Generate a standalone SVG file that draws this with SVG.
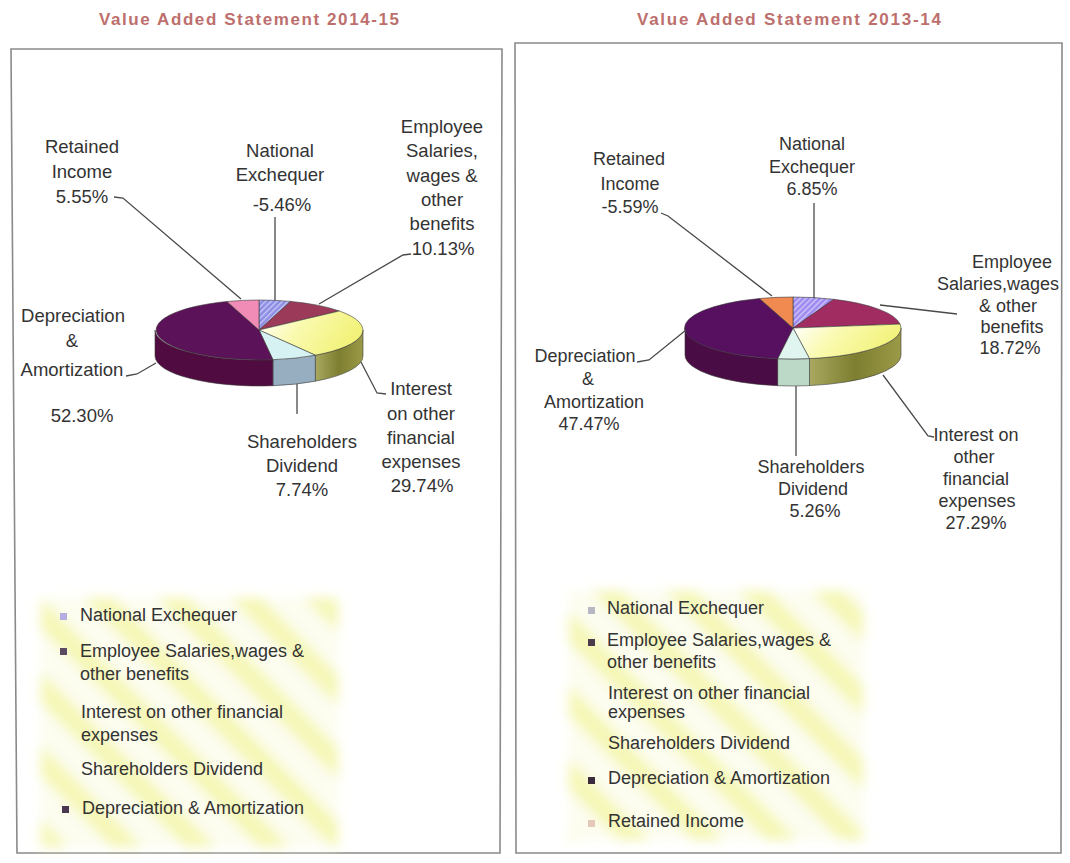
<svg xmlns="http://www.w3.org/2000/svg" width="1070" height="863" viewBox="0 0 1070 863">
<style>
.title{font-family:"Liberation Sans",Arial,sans-serif;font-weight:bold;font-size:17px;fill:#bd6f6d}
.lbl{font-family:"Liberation Sans",Arial,sans-serif;font-size:18.5px;fill:#333333;text-anchor:middle}
.lblr{font-family:"Liberation Sans",Arial,sans-serif;font-size:18px;fill:#333333;text-anchor:middle}
.leg{font-family:"Liberation Sans",Arial,sans-serif;font-size:18px;fill:#333333}
.panel{fill:#fff;stroke:#8a8a8a;stroke-width:1.6}
.lead{fill:none;stroke:#4a4a4a;stroke-width:1.3}
.sl{stroke:#3a3a3a;stroke-width:0.6;stroke-linejoin:round}
</style>
<defs>
<pattern id="hatchL" width="4" height="4" patternUnits="userSpaceOnUse" patternTransform="rotate(45)"><rect width="4" height="4" fill="#8c8ce4"/><rect width="1.5" height="4" fill="#c4c4f6"/></pattern>
<pattern id="hatchR" width="4" height="4" patternUnits="userSpaceOnUse" patternTransform="rotate(45)"><rect width="4" height="4" fill="#9c88ee"/><rect width="1.5" height="4" fill="#cfc4fa"/></pattern>
<pattern id="stripes" width="52" height="52" patternUnits="userSpaceOnUse" patternTransform="rotate(-45)"><rect width="52" height="52" fill="#fdfdf0"/><rect width="22" height="52" fill="#f5f7b6"/></pattern>
<linearGradient id="intTop" x1="0" y1="0" x2="1" y2="0.3"><stop offset="0" stop-color="#ffffff"/><stop offset="0.45" stop-color="#fafab0"/><stop offset="1" stop-color="#f2f27a"/></linearGradient>
<linearGradient id="intSide" x1="0" y1="0" x2="1" y2="0"><stop offset="0" stop-color="#a8a860"/><stop offset="0.5" stop-color="#7e7e30"/><stop offset="1" stop-color="#9a9a48"/></linearGradient>
<filter id="soft" x="-5%" y="-5%" width="110%" height="110%"><feGaussianBlur stdDeviation="6"/></filter>
</defs>

<rect width="1070" height="863" fill="#ffffff"/>

<g id="title-left"><text class="title" x="99" y="25" textLength="300">Value Added Statement 2014-15</text></g>
<g id="title-right"><text class="title" x="637" y="25" textLength="304">Value Added Statement 2013-14</text></g>

<g id="panel-left"><path class="panel" d="M11,49 L502,49 L500,853 L17,853 Z"/></g>
<g id="panel-right"><path class="panel" d="M515,43 L1062,43 L1061,853 L516,853 Z"/></g>

<!-- LEFT PIE 2014-15 -->
<g id="pie-left">
<path class="sl" fill="url(#intSide)" d="M363,330 A104,30 0 0 1 315.3,355.2 L315.3,381.2 A104,30 0 0 0 363,356 Z"/>
<path class="sl" fill="#97aec0" d="M315.3,355.2 A104,30 0 0 1 272.9,359.7 L272.9,385.7 A104,30 0 0 0 315.3,381.2 Z"/>
<path class="sl" fill="#500c40" d="M272.9,359.7 A104,30 0 0 1 155,330 L155,356 A104,30 0 0 0 272.9,385.7 Z"/>
<path class="sl" fill="url(#hatchL)" d="M259,330 L259,300 A104,30 0 0 1 290.6,301.4 Z"/>
<path class="sl" fill="#9c3a5a" d="M259,330 L290.6,301.4 A104,30 0 0 1 339.4,311 Z"/>
<path class="sl" fill="url(#intTop)" d="M259,330 L339.4,311 A104,30 0 0 1 315.3,355.2 Z"/>
<path class="sl" fill="#d6f2f2" d="M259,330 L315.3,355.2 A104,30 0 0 1 272.9,359.7 Z"/>
<path class="sl" fill="#5c1258" d="M259,330 L272.9,359.7 A104,30 0 0 1 226.9,301.5 Z"/>
<path class="sl" fill="#f08cb6" d="M259,330 L226.9,301.5 A104,30 0 0 1 259,300 Z"/>
</g>

<!-- RIGHT PIE 2013-14 -->
<g id="pie-right">
<path class="sl" fill="url(#intSide)" d="M901,328 A108,31 0 0 1 809.5,358.6 L809.5,385.6 A108,31 0 0 0 901,355 Z"/>
<path class="sl" fill="#bcd9c8" d="M809.5,358.6 A108,31 0 0 1 777.6,358.7 L777.6,385.7 A108,31 0 0 0 809.5,385.6 Z"/>
<path class="sl" fill="#4a0c44" d="M777.6,358.7 A108,31 0 0 1 685,328 L685,355 A108,31 0 0 0 777.6,385.7 Z"/>
<path class="sl" fill="url(#hatchR)" d="M793,328 L793,297 A108,31 0 0 1 833.8,299.3 Z"/>
<path class="sl" fill="#a02c62" d="M793,328 L833.8,299.3 A108,31 0 0 1 900.1,324.1 Z"/>
<path class="sl" fill="url(#intTop)" d="M793,328 L900.1,324.1 A108,31 0 0 1 809.5,358.6 Z"/>
<path class="sl" fill="#e0f4f0" d="M793,328 L809.5,358.6 A108,31 0 0 1 777.6,358.7 Z"/>
<path class="sl" fill="#571060" d="M793,328 L777.6,358.7 A108,31 0 0 1 759.4,298.5 Z"/>
<path class="sl" fill="#f08a50" d="M793,328 L759.4,298.5 A108,31 0 0 1 793,297 Z"/>
</g>

<g id="connectors">
<path class="lead" d="M114,197 L123,198 L241,299"/>
<path class="lead" d="M275,217 L275,300"/>
<path class="lead" d="M411,254 L403,255 L319,304"/>
<path class="lead" d="M126,376 L137,374 L156,363"/>
<path class="lead" d="M297,384 L297,414"/>
<path class="lead" d="M386,394 L377,393 L361,362"/>
<path class="lead" d="M661,213 L668,216 L772,296"/>
<path class="lead" d="M814,203 L814,298"/>
<path class="lead" d="M957,314 L880,305"/>
<path class="lead" d="M637,362 L649,360 L686,330"/>
<path class="lead" d="M796,386 L796,456"/>
<path class="lead" d="M883,375 L928,436 L934,437"/>
</g>

<!-- LEFT LABELS -->
<g id="lbl-left-retained"><text class="lbl" x="82" y="153">Retained</text><text class="lbl" x="82" y="178">Income</text><text class="lbl" x="82" y="203">5.55%</text></g>
<g id="lbl-left-national"><text class="lbl" x="280" y="157">National</text><text class="lbl" x="280" y="181">Exchequer</text><text class="lbl" x="282" y="211">-5.46%</text></g>
<g id="lbl-left-employee"><text class="lbl" x="442" y="133">Employee</text><text class="lbl" x="442" y="157">Salaries,</text><text class="lbl" x="442" y="182">wages &amp;</text><text class="lbl" x="442" y="206">other</text><text class="lbl" x="442" y="230">benefits</text><text class="lbl" x="443" y="255">10.13%</text></g>
<g id="lbl-left-depreciation"><text class="lbl" x="73" y="322">Depreciation</text><text class="lbl" x="72" y="347">&amp;</text><text class="lbl" x="72" y="376">Amortization</text><text class="lbl" x="82" y="422">52.30%</text></g>
<g id="lbl-left-shareholders"><text class="lbl" x="302" y="448">Shareholders</text><text class="lbl" x="302" y="472">Dividend</text><text class="lbl" x="302" y="496">7.74%</text></g>
<g id="lbl-left-interest"><text class="lbl" x="421" y="395">Interest</text><text class="lbl" x="421" y="420">on other</text><text class="lbl" x="421" y="444">financial</text><text class="lbl" x="421" y="468">expenses</text><text class="lbl" x="422" y="492">29.74%</text></g>

<!-- RIGHT LABELS -->
<g id="lbl-right-national"><text class="lblr" x="812" y="150">National</text><text class="lblr" x="812" y="173">Exchequer</text><text class="lblr" x="812" y="195">6.85%</text></g>
<g id="lbl-right-retained"><text class="lblr" x="629" y="165">Retained</text><text class="lblr" x="630" y="190">Income</text><text class="lblr" x="630" y="213">-5.59%</text></g>
<g id="lbl-right-employee"><text class="lblr" x="1012" y="268">Employee</text><text class="lblr" x="998" y="290">Salaries,wages</text><text class="lblr" x="1008" y="312">&amp; other</text><text class="lblr" x="1012" y="333">benefits</text><text class="lblr" x="1010" y="354">18.72%</text></g>
<g id="lbl-right-depreciation"><text class="lblr" x="585" y="362">Depreciation</text><text class="lblr" x="588" y="385">&amp;</text><text class="lblr" x="594" y="408">Amortization</text><text class="lblr" x="589" y="430">47.47%</text></g>
<g id="lbl-right-shareholders"><text class="lblr" x="811" y="473">Shareholders</text><text class="lblr" x="813" y="495">Dividend</text><text class="lblr" x="815" y="517">5.26%</text></g>
<g id="lbl-right-interest"><text class="lblr" x="976" y="441">Interest on</text><text class="lblr" x="974" y="463">other</text><text class="lblr" x="976" y="485">financial</text><text class="lblr" x="977" y="507">expenses</text><text class="lblr" x="976" y="529">27.29%</text></g>

<!-- LEGENDS -->
<g id="legend-left">
<rect x="41" y="598" width="297" height="249" fill="url(#stripes)" filter="url(#soft)"/>
<rect x="60" y="613" width="7" height="7" fill="#b6aee0"/>
<text class="leg" x="80" y="621">National Exchequer</text>
<rect x="60" y="648" width="7" height="7" fill="#5a4a62"/>
<text class="leg" x="80" y="657">Employee Salaries,wages &amp;</text>
<text class="leg" x="80" y="680">other benefits</text>
<text class="leg" x="81" y="718">Interest on other financial</text>
<text class="leg" x="81" y="741">expenses</text>
<text class="leg" x="81" y="775">Shareholders Dividend</text>
<rect x="62" y="806" width="7" height="7" fill="#4a3850"/>
<text class="leg" x="82" y="814">Depreciation &amp; Amortization</text>
</g>
<g id="legend-right">
<rect x="569" y="591" width="294" height="249" fill="url(#stripes)" filter="url(#soft)"/>
<rect x="588" y="607" width="7" height="7" fill="#b8b8c4"/>
<text class="leg" x="607" y="614">National Exchequer</text>
<rect x="588" y="639" width="7" height="7" fill="#4a3a4c"/>
<text class="leg" x="607" y="646">Employee Salaries,wages &amp;</text>
<text class="leg" x="607" y="668">other benefits</text>
<text class="leg" x="608" y="699">Interest on other financial</text>
<text class="leg" x="608" y="718">expenses</text>
<text class="leg" x="608" y="749">Shareholders Dividend</text>
<rect x="588" y="777" width="7" height="7" fill="#3a2a3c"/>
<text class="leg" x="608" y="784">Depreciation &amp; Amortization</text>
<rect x="588" y="820" width="7" height="7" fill="#e4c8b8"/>
<text class="leg" x="608" y="827">Retained Income</text>
</g>
</svg>
